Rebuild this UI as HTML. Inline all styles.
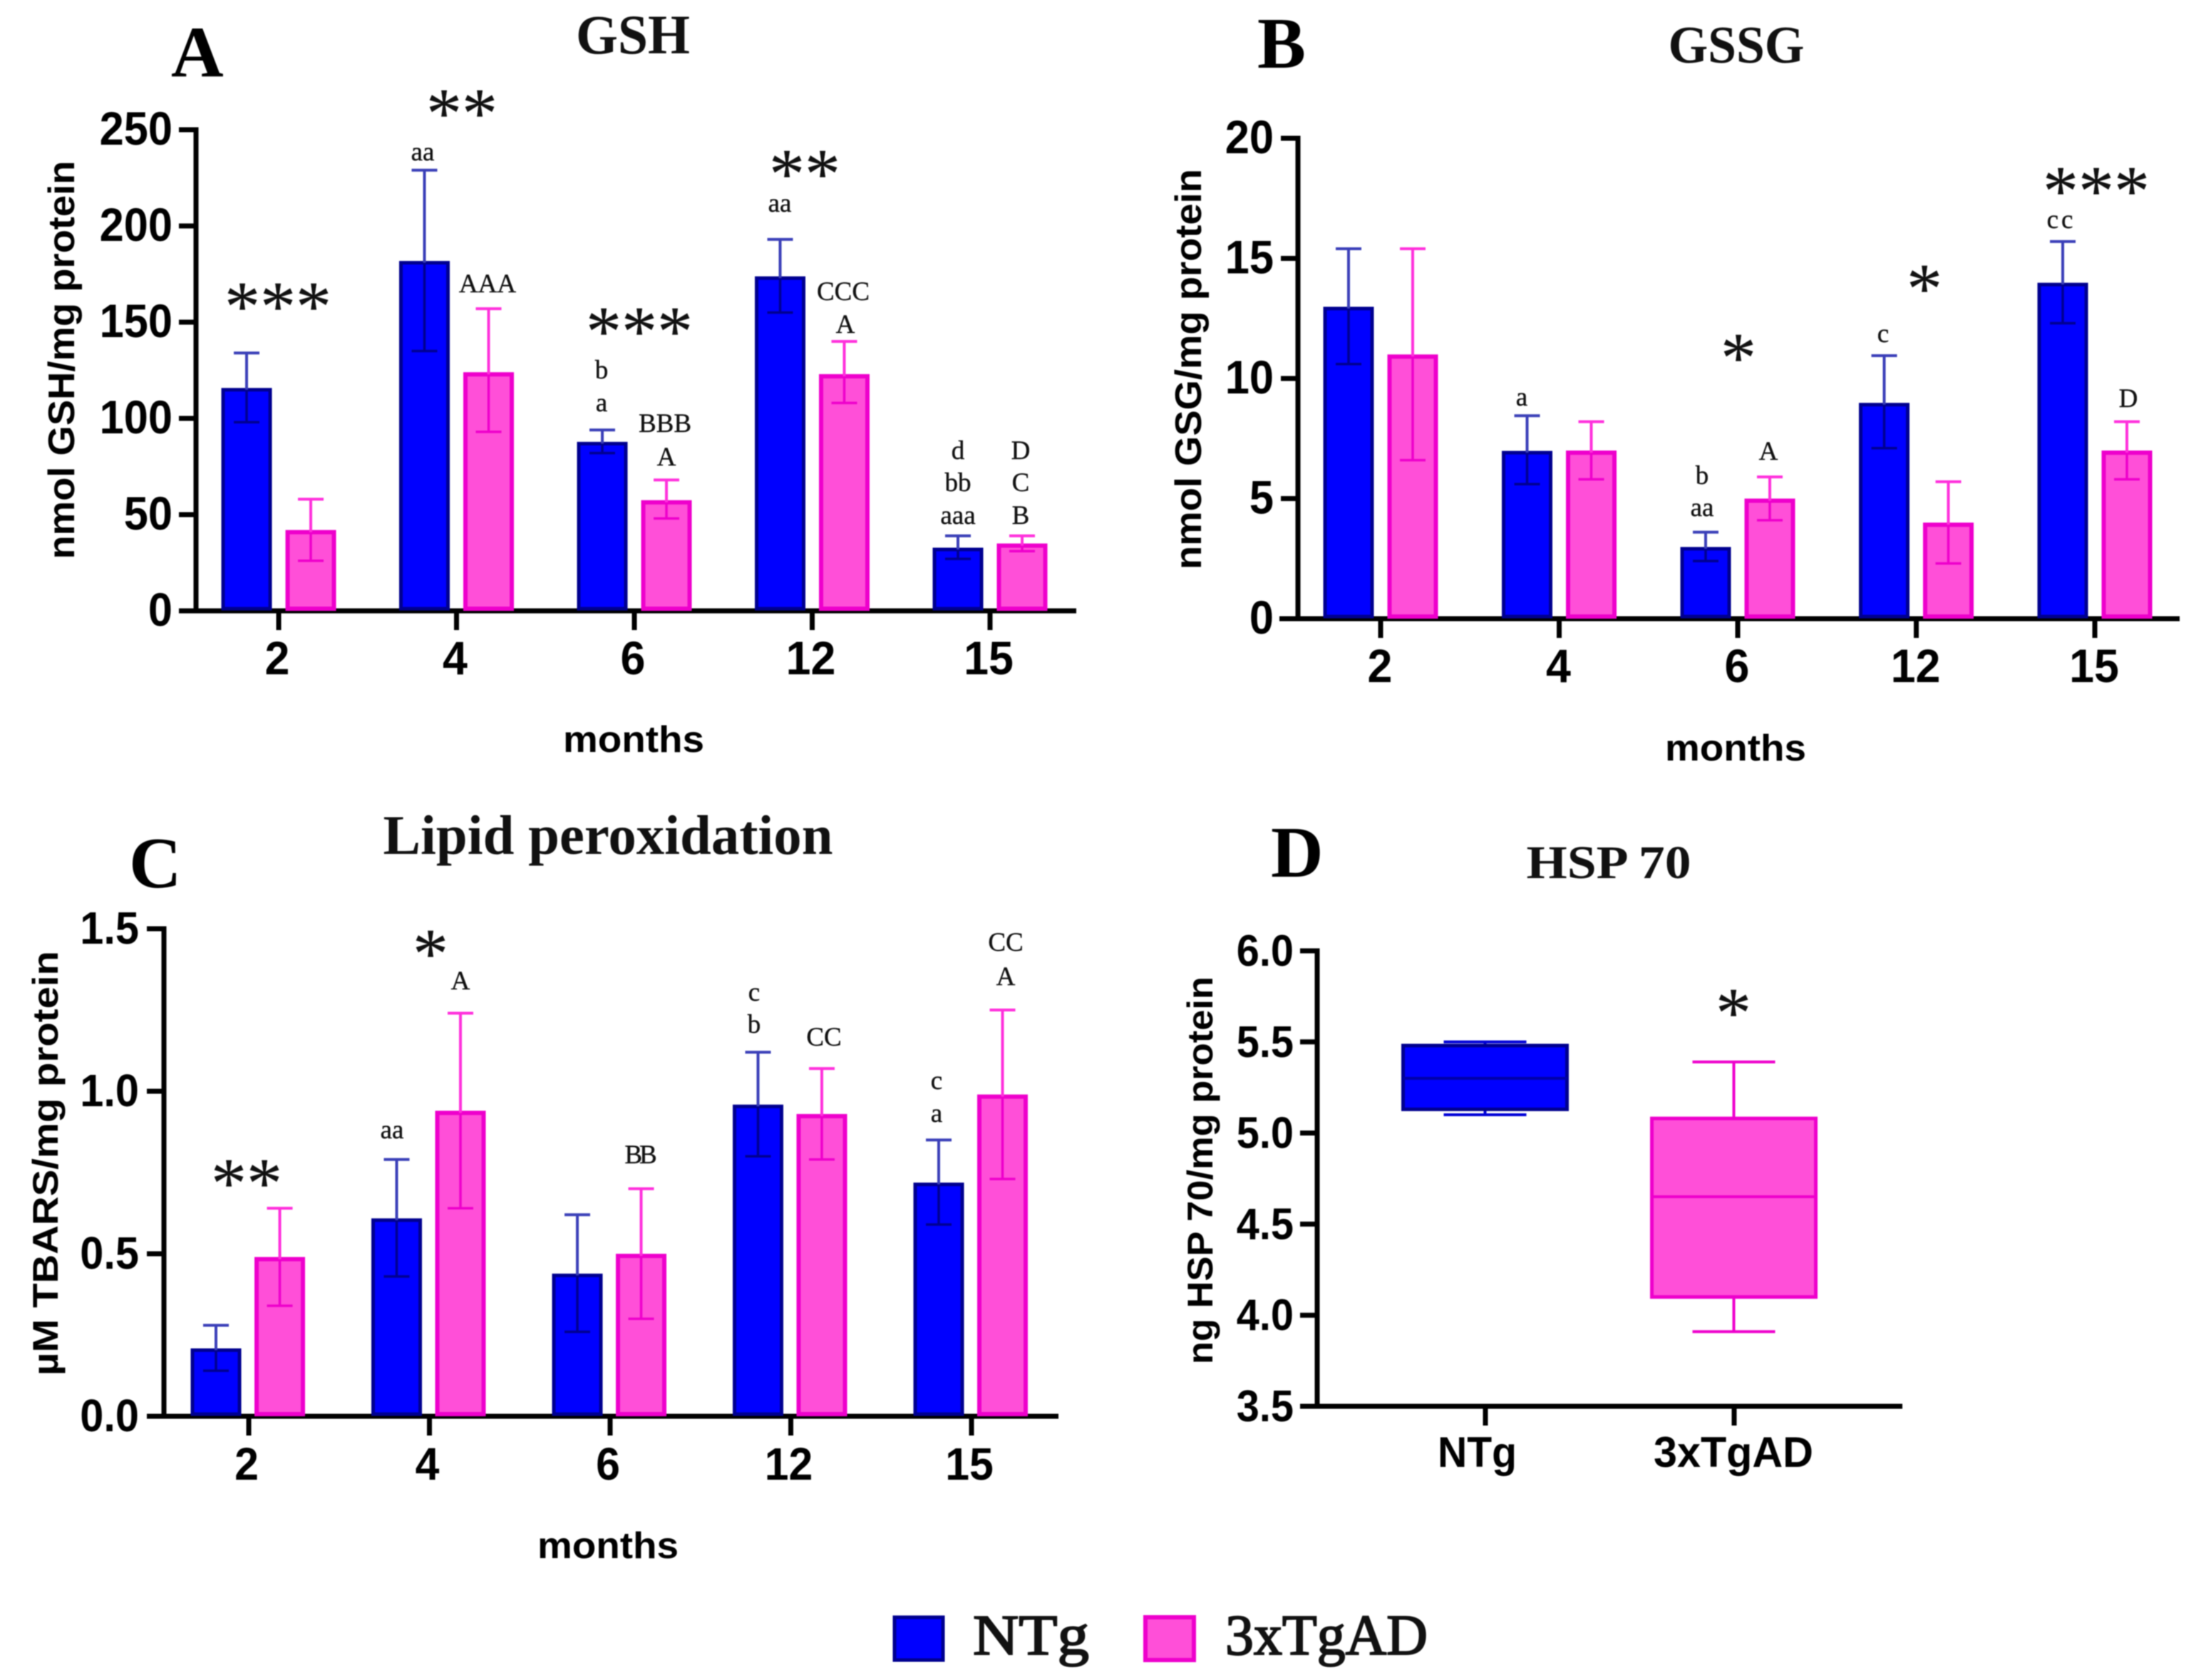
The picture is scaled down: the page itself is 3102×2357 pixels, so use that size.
<!DOCTYPE html>
<html>
<head>
<meta charset="utf-8">
<title>Oxidative stress panels</title>
<style>
html,body{margin:0;padding:0;background:#fff;width:3102px;height:2357px;overflow:hidden}
svg{display:block;filter:blur(0.9px)}
.serif{font-family:"Liberation Serif",serif}
.sans{font-family:"Liberation Sans",sans-serif;font-weight:700}
.letter{font-family:"Liberation Serif",serif;font-size:37px;text-anchor:middle;fill:#111;stroke:#111;stroke-width:0.4}
.star{font-family:"Liberation Serif",serif;font-size:100px;text-anchor:middle;fill:#111;stroke:#111;stroke-width:0.3}
.plabel{font-family:"Liberation Serif",serif;font-weight:700;font-size:102px;fill:#000}
.ptitle{font-family:"Liberation Serif",serif;font-weight:700;text-anchor:middle;fill:#111}
</style>
</head>
<body>
<svg id="fig" xmlns="http://www.w3.org/2000/svg" width="3102" height="2357" viewBox="0 0 3102 2357">
  <rect x="0" y="0" width="3102" height="2357" fill="#fff"/>

  <g>
    <text class="plabel" x="240" y="107">A</text>
    <text class="plabel" x="1764" y="95">B</text>
    <text class="plabel" x="181" y="1245">C</text>
    <text class="plabel" x="1783" y="1230">D</text>
  </g>

  <g>
    <text class="ptitle" x="888" y="75" font-size="78" textLength="160" lengthAdjust="spacingAndGlyphs">GSH</text>
    <text class="ptitle" x="2436" y="88" font-size="74" textLength="191" lengthAdjust="spacingAndGlyphs">GSSG</text>
    <text class="ptitle" x="853" y="1198" font-size="78" font-weight="400" textLength="631" lengthAdjust="spacingAndGlyphs">Lipid peroxidation</text>
    <text class="ptitle" x="2257" y="1232" font-size="66" textLength="231" lengthAdjust="spacingAndGlyphs">HSP 70</text>
  </g>

  <g>
    <text class="star" x="390" y="463">***</text>
    <text class="star" x="648" y="192">**</text>
    <text class="star" x="897" y="498">***</text>
    <text class="star" x="1129" y="277">**</text>
    <text class="star" x="2439" y="535">*</text>
    <text class="star" x="2700" y="438">*</text>
    <text class="star" x="2941" y="301">***</text>
    <text class="star" x="346" y="1693">**</text>
    <text class="star" x="604" y="1371">*</text>
    <text class="star" x="2432" y="1454">*</text>
  </g>

  <g>
    <text class="letter" x="593" y="225">aa</text>
    <text class="letter" x="684" y="410">AAA</text>
    <text class="letter" x="844" y="531">b</text>
    <text class="letter" x="844" y="577">a</text>
    <text class="letter" x="933" y="606">BBB</text>
    <text class="letter" x="935" y="653">A</text>
    <text class="letter" x="1094" y="297">aa</text>
    <text class="letter" x="1183" y="421">CCC</text>
    <text class="letter" x="1186" y="467">A</text>
    <text class="letter" x="1344" y="644">d</text>
    <text class="letter" x="1344" y="689">bb</text>
    <text class="letter" x="1344" y="735">aaa</text>
    <text class="letter" x="1432" y="644">D</text>
    <text class="letter" x="1432" y="689">C</text>
    <text class="letter" x="1432" y="735">B</text>

    <text class="letter" x="2135" y="569">a</text>
    <text class="letter" x="2388" y="679">b</text>
    <text class="letter" x="2388" y="724">aa</text>
    <text class="letter" x="2481" y="645">A</text>
    <text class="letter" x="2642" y="480">c</text>
    <text class="letter" x="2892" y="320" letter-spacing="4">cc</text>
    <text class="letter" x="2986" y="571">D</text>

    <text class="letter" x="646" y="1388">A</text>
    <text class="letter" x="550" y="1597">aa</text>
    <text class="letter" x="897" y="1632" letter-spacing="-4">BB</text>
    <text class="letter" x="1058" y="1404">c</text>
    <text class="letter" x="1058" y="1449">b</text>
    <text class="letter" x="1156" y="1467">CC</text>
    <text class="letter" x="1314" y="1528">c</text>
    <text class="letter" x="1314" y="1574">a</text>
    <text class="letter" x="1411" y="1334">CC</text>
    <text class="letter" x="1411" y="1382">A</text>
  </g>

  <g>
    <rect x="1255" y="2269" width="68" height="60" fill="#0000ff" stroke="#00008f" stroke-width="5"/>
    <text class="serif" x="1365" y="2321" font-size="80" fill="#111" stroke="#111" stroke-width="2" textLength="163" lengthAdjust="spacingAndGlyphs">NTg</text>
    <rect x="1607" y="2269" width="68" height="60" fill="#ff4fd8" stroke="#ee00cc" stroke-width="6"/>
    <text class="serif" x="1719" y="2321" font-size="80" fill="#111" stroke="#111" stroke-width="2" textLength="284" lengthAdjust="spacingAndGlyphs">3xTgAD</text>
  </g>

  <g id="charts"></g>
</svg>

<script>
// Shared categories
const months = ['2', '4', '6', '12', '15'];

// Panel A: GSH
const gshTicks = [0, 50, 100, 150, 200, 250];
const gshNTg = [116, 182, 88, 174, 33];
const gshNTgHigh = [134, 229, 94, 193, 39];
const gshNTgLow = [98, 135, 82, 155, 27];
const gsh3x = [42, 124, 57.5, 123, 35];
const gsh3xHigh = [58, 157, 68, 140, 39];
const gsh3xLow = [26, 93, 48, 108, 31];

// Panel B: GSSG
const gssgTicks = [0, 5, 10, 15, 20];
const gssgNTg = [13, 7, 3, 9, 14];
const gssgNTgHigh = [15.4, 8.45, 3.6, 10.95, 15.7];
const gssgNTgLow = [10.6, 5.6, 2.4, 7.1, 12.3];
const gssg3x = [11, 7, 5, 4, 7];
const gssg3xHigh = [15.4, 8.2, 5.9, 5.7, 8.2];
const gssg3xLow = [6.6, 5.8, 4.1, 2.3, 5.8];

// Panel C: lipid peroxidation
const lipidTicks = ['0.0', '0.5', '1.0', '1.5'];
const lipidNTg = [0.21, 0.61, 0.44, 0.96, 0.72];
const lipidNTgHigh = [0.28, 0.79, 0.62, 1.12, 0.85];
const lipidNTgLow = [0.14, 0.43, 0.26, 0.80, 0.59];
const lipid3x = [0.49, 0.94, 0.50, 0.93, 0.99];
const lipid3xHigh = [0.64, 1.24, 0.70, 1.07, 1.25];
const lipid3xLow = [0.34, 0.64, 0.30, 0.79, 0.73];

// Panel D: HSP 70 box plot
const hspGroups = ['NTg', '3xTgAD'];
const hspTicks = ['3.5', '4.0', '4.5', '5.0', '5.5', '6.0'];
const hspMin = [5.10, 3.91];
const hspQ1 = [5.13, 4.10];
const hspMedian = [5.30, 4.65];
const hspQ3 = [5.48, 5.08];
const hspMax = [5.50, 5.39];

const NS = 'http://www.w3.org/2000/svg';
const root = document.getElementById('charts');
const BLUE = {fill: '#0000ff', stroke: '#00008f', err: '#3a3fb8', errIn: '#000090', sw: 5};
const PINK = {fill: '#ff4fd8', stroke: '#ee00cc', err: '#ff30dc', errIn: '#ee00cc', sw: 6};

function mk(parent, tag, attrs, name, text) {
  const el = document.createElementNS(NS, tag);
  for (const k in attrs) el.setAttribute(k, attrs[k]);
  
  
  if (text !== undefined) el.textContent = text;
  parent.appendChild(el);
  return el;
}
function line(parent, x1, y1, x2, y2, color, w, name) {
  return mk(parent, 'line', {x1: x1, y1: y1, x2: x2, y2: y2, stroke: color, 'stroke-width': w}, name);
}
function condense(el, k) {
  const len = el.getComputedTextLength();
  el.setAttribute('textLength', (len * k).toFixed(1));
  el.setAttribute('lengthAdjust', 'spacingAndGlyphs');
}

function axes(g, cfg, yScale) {
  const axisW = 7;
  line(g, cfg.axisX, cfg.y0 - cfg.h - 3.5, cfg.axisX, cfg.y0 + 3, '#000', axisW, 'y-axis');
  line(g, cfg.xStart, cfg.y0, cfg.xEnd, cfg.y0, '#000', axisW, 'x-axis');
  cfg.yTicks.forEach(function (t) {
    const y = yScale(Number(t));
    line(g, cfg.axisX - 24, y, cfg.axisX, y, '#000', 7, 'y-tick-' + t);
    const lab = mk(g, 'text', {x: cfg.labelRight, y: y + 21, 'font-size': cfg.tickFont, 'text-anchor': 'end', class: 'sans', fill: '#000'}, 'y-tick-label-' + t, String(t));
    condense(lab, 0.93);
  });
  cfg.xTickPos.forEach(function (x, i) {
    line(g, x, cfg.y0, x, cfg.y0 + 27, '#000', 7, 'x-tick-' + cfg.categories[i]);
  });
  const ty = mk(g, 'text', {
    transform: 'translate(' + cfg.titleX + ',' + cfg.titleY + ') rotate(-90)',
    'text-anchor': 'middle', 'font-size': cfg.titleFont, class: 'sans', fill: '#000',
    textLength: cfg.titleLen, lengthAdjust: 'spacingAndGlyphs'
  }, 'y-axis-title', cfg.yTitle);
  return ty;
}

function xPositions(cfg) {
  return cfg.categories.map(function (_, i) { return cfg.x0 + i * cfg.step; });
}

function barPanel(cfg) {
  const g = mk(root, 'g', {}, cfg.name);
  const yScale = function (v) { return cfg.y0 - (v - cfg.min) / (cfg.max - cfg.min) * cfg.h; };
  cfg.xTickPos = xPositions(cfg);
  axes(g, cfg, yScale);
  cfg.categories.forEach(function (c, i) {
    const x = cfg.xTickPos[i] + cfg.labelDx;
    const lab = mk(g, 'text', {x: x, y: cfg.xLabelY, 'font-size': cfg.tickFont, 'text-anchor': 'middle', class: 'sans', fill: '#000'}, 'x-tick-label-' + c, c);
    condense(lab, 0.95);
  });
  mk(g, 'text', {x: cfg.monthsX, y: cfg.monthsY, 'font-size': 52, 'text-anchor': 'middle', class: 'sans', fill: '#000', textLength: 198, lengthAdjust: 'spacingAndGlyphs'}, 'x-axis-title', 'months');
  cfg.series.forEach(function (s) {
    s.values.forEach(function (v, i) {
      const cx = cfg.xTickPos[i] + s.offset;
      const top = yScale(v);
      const base = cfg.y0 - 3;
      const rectTop = top + 3;
      const half = 35.5 - s.color.sw / 2;
      mk(g, 'rect', {x: cx - half, y: rectTop, width: half * 2, height: Math.max(0, base - rectTop), fill: s.color.fill, stroke: s.color.stroke, 'stroke-width': s.color.sw}, 'bar-' + s.key + '-' + cfg.categories[i]);
      const hi = yScale(s.high[i]);
      const lo = yScale(s.low[i]);
      line(g, cx, rectTop, cx, hi, s.color.err, 4, 'error-upper-' + s.key + '-' + cfg.categories[i]);
      line(g, cx, rectTop, cx, lo, s.color.errIn, 3.5, 'error-lower-' + s.key + '-' + cfg.categories[i]);
      line(g, cx - 18, hi, cx + 18, hi, s.color.err, 4, 'error-cap-high-' + s.key + '-' + cfg.categories[i]);
      line(g, cx - 18, lo, cx + 18, lo, s.color.errIn, 3.5, 'error-cap-low-' + s.key + '-' + cfg.categories[i]);
    });
  });
}

barPanel({
  name: 'panel-a-gsh', categories: months, yTicks: gshTicks, min: 0, max: 250,
  y0: 857, h: 675, axisX: 275, xStart: 251, xEnd: 1510, x0: 391, step: 249.5, labelDx: -2,
  labelRight: 242, tickFont: 66, xLabelY: 946, monthsX: 889, monthsY: 1055,
  yTitle: 'nmol GSH/mg protein', titleX: 104, titleY: 505, titleFont: 52, titleLen: 559,
  series: [
    {key: 'ntg', values: gshNTg, high: gshNTgHigh, low: gshNTgLow, color: BLUE, offset: -45},
    {key: '3xtgad', values: gsh3x, high: gsh3xHigh, low: gsh3xLow, color: PINK, offset: 45}
  ]
});

barPanel({
  name: 'panel-b-gssg', categories: months, yTicks: gssgTicks, min: 0, max: 20,
  y0: 868, h: 674, axisX: 1821, xStart: 1795, xEnd: 3058, x0: 1937, step: 250.5, labelDx: -1,
  labelRight: 1787, tickFont: 66, xLabelY: 957, monthsX: 2435, monthsY: 1067,
  yTitle: 'nmol GSG/mg protein', titleX: 1685, titleY: 518, titleFont: 52, titleLen: 562,
  series: [
    {key: 'ntg', values: gssgNTg, high: gssgNTgHigh, low: gssgNTgLow, color: BLUE, offset: -45},
    {key: '3xtgad', values: gssg3x, high: gssg3xHigh, low: gssg3xLow, color: PINK, offset: 45}
  ]
});

barPanel({
  name: 'panel-c-lipid-peroxidation', categories: months, yTicks: lipidTicks, min: 0, max: 1.5,
  y0: 1987, h: 684, axisX: 230, xStart: 208, xEnd: 1485, x0: 349, step: 253.5, labelDx: -3,
  labelRight: 195, tickFont: 64, xLabelY: 2076, monthsX: 853, monthsY: 2186,
  yTitle: 'µM TBARS/mg protein', titleX: 81, titleY: 1632, titleFont: 50, titleLen: 596,
  series: [
    {key: 'ntg', values: lipidNTg, high: lipidNTgHigh, low: lipidNTgLow, color: BLUE, offset: -46},
    {key: '3xtgad', values: lipid3x, high: lipid3xHigh, low: lipid3xLow, color: PINK, offset: 43.5}
  ]
});

(function boxPanel() {
  const cfg = {
    categories: hspGroups, yTicks: hspTicks, y0: 1973, h: 639, axisX: 1848, xStart: 1826, xEnd: 2669,
    xTickPos: [2084, 2433], labelRight: 1815, tickFont: 62,
    yTitle: 'ng HSP 70/mg protein', titleX: 1701, titleY: 1642, titleFont: 50, titleLen: 544
  };
  const min = 3.5, max = 6.0;
  const g = mk(root, 'g', {}, 'panel-d-hsp70');
  const yScale = function (v) { return cfg.y0 - (v - min) / (max - min) * cfg.h; };
  axes(g, cfg, yScale);
  const labelCx = [2072.5, 2432];
  const labelLen = [111, 224];
  hspGroups.forEach(function (c, i) {
    mk(g, 'text', {x: labelCx[i], y: 2058, 'font-size': 60, 'text-anchor': 'middle', class: 'sans', fill: '#000', textLength: labelLen[i], lengthAdjust: 'spacingAndGlyphs'}, 'x-tick-label-' + c, c);
  });
  const colors = [BLUE, PINK];
  const centers = [2083.5, 2432.5];
  hspGroups.forEach(function (c, i) {
    const col = colors[i], cx = centers[i], key = c.toLowerCase();
    const edge = i === 0 ? '#0000d8' : col.stroke;
    line(g, cx, yScale(hspMax[i]), cx, yScale(hspQ3[i]), edge, 4, 'whisker-upper-' + key);
    line(g, cx, yScale(hspMin[i]), cx, yScale(hspQ1[i]), edge, 4, 'whisker-lower-' + key);
    line(g, cx - 58, yScale(hspMax[i]), cx + 58, yScale(hspMax[i]), edge, 4, 'whisker-cap-high-' + key);
    line(g, cx - 58, yScale(hspMin[i]), cx + 58, yScale(hspMin[i]), edge, 4, 'whisker-cap-low-' + key);
    mk(g, 'rect', {x: cx - 115, y: yScale(hspQ3[i]), width: 230, height: yScale(hspQ1[i]) - yScale(hspQ3[i]), fill: col.fill, stroke: col.stroke, 'stroke-width': 5}, 'box-' + key);
    line(g, cx - 115, yScale(hspMedian[i]), cx + 115, yScale(hspMedian[i]), i === 0 ? '#0000a8' : col.stroke, 4, 'median-' + key);
  });
})();
</script>
</body>
</html>
